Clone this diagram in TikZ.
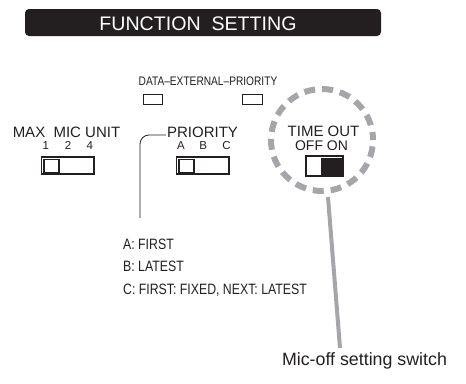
\documentclass[tikz,border=0pt]{standalone}
\usepackage{fontspec}
\setmainfont{Liberation Sans}
\newfontfamily\narrowfont[FakeStretch=0.82]{Liberation Sans}
\definecolor{ink}{RGB}{35,31,32}
\definecolor{ringgray}{RGB}{165,166,169}
\begin{document}
\begin{tikzpicture}[x=1pt,y=-1pt,
  lbl/.style={inner sep=0pt,anchor=base,text=ink},
  small/.style={lbl,font=\narrowfont\fontsize{15}{15}\selectfont,anchor=base west},
  slidebox/.style={draw=ink,line width=1.1pt,fill=white,inner sep=0pt},
  knob/.style={draw=ink,line width=1.1pt,inner sep=0pt},
  led/.style={draw=ink,line width=0.9pt,inner sep=0pt,minimum width=19.5pt,minimum height=10pt}
]
\useasboundingbox (0,0) rectangle (466,383);
% title bar
\node[fill=ink,rounded corners=4pt,minimum width=356pt,minimum height=27pt,inner sep=0pt] (bar) at (203,22.5) {};
\node[lbl,text=white,font=\fontsize{19.6}{19.6}\selectfont] (title) at (198,30) {FUNCTION\ \ SETTING};
% LED label and leds
\node[lbl,font=\narrowfont\fontsize{12.4}{12.4}\selectfont] (dep) at (208,85) {DATA–EXTERNAL–PRIORITY};
\node[led] (led1) at (153,99.5) {};
\node[led] (led2) at (252.5,99.5) {};
% MAX MIC UNIT
\node[lbl,font=\fontsize{15}{15}\selectfont] (mmu) at (66.5,137) {MAX\ \ MIC UNIT};
\node[lbl,font=\fontsize{11.5}{11.5}\selectfont] (n1) at (45.7,149.3) {1};
\node[lbl,font=\fontsize{11.5}{11.5}\selectfont] (n2) at (68,149.3) {2};
\node[lbl,font=\fontsize{11.5}{11.5}\selectfont] (n4) at (89.7,149.3) {4};
\node[slidebox,minimum width=52.3pt,minimum height=17pt] (sw1) at (67.85,165.5) {};
\node[knob,minimum width=15pt,minimum height=13.4pt] (k1) at (51.5,166) {};
% PRIORITY
\node[lbl,font=\fontsize{15}{15}\selectfont] (prio) at (202.5,137) {PRIORITY};
\node[lbl,font=\fontsize{11.5}{11.5}\selectfont] (pa) at (181,149.3) {A};
\node[lbl,font=\fontsize{11.5}{11.5}\selectfont] (pb) at (203.3,149.3) {B};
\node[lbl,font=\fontsize{11.5}{11.5}\selectfont] (pc) at (226.5,149.3) {C};
\node[slidebox,minimum width=52.3pt,minimum height=17pt] (sw2) at (202.85,165.5) {};
\node[knob,minimum width=15pt,minimum height=13.4pt] (k2) at (186.5,166) {};
\coordinate (brk) at (140,218);
\draw[ink,line width=0.8pt,rounded corners=9pt] (prio.west |- 0,135) ++(-1,0) -| (brk);
% TIME OUT
\node[lbl,font=\fontsize{15}{15}\selectfont] (to) at (323.5,136) {TIME OUT};
\node[lbl,font=\fontsize{14}{14}\selectfont] (offon) at (321.5,150) {OFF ON};
\node[slidebox,minimum width=37pt,minimum height=20pt] (sw3) at (324.5,166) {};
\node[knob,fill=ink,minimum width=19.5pt,minimum height=15.7pt] (k3) at (331.7,166.2) {};
% ring
\node[draw=ringgray,line width=6pt,dash pattern=on 11pt off 7pt,dash phase=3pt,circle,minimum size=102pt,inner sep=0pt] (ring) at (322,140) {};
% priority legend
\node[small] (la) at (123,249) {A: FIRST};
\node[small] (lb) at (123,271.5) {B: LATEST};
\node[small] (lc) at (123,294) {C: FIRST: FIXED, NEXT: LATEST};
% callout
\node[lbl,font=\fontsize{17.8}{17.8}\selectfont] (call) at (364.5,365) {Mic-off setting switch};
\coordinate (tip) at (340,348);
\draw[ringgray,line width=4pt] (ring.south) ++(6,3) -- (tip);
\end{tikzpicture}
\end{document}
